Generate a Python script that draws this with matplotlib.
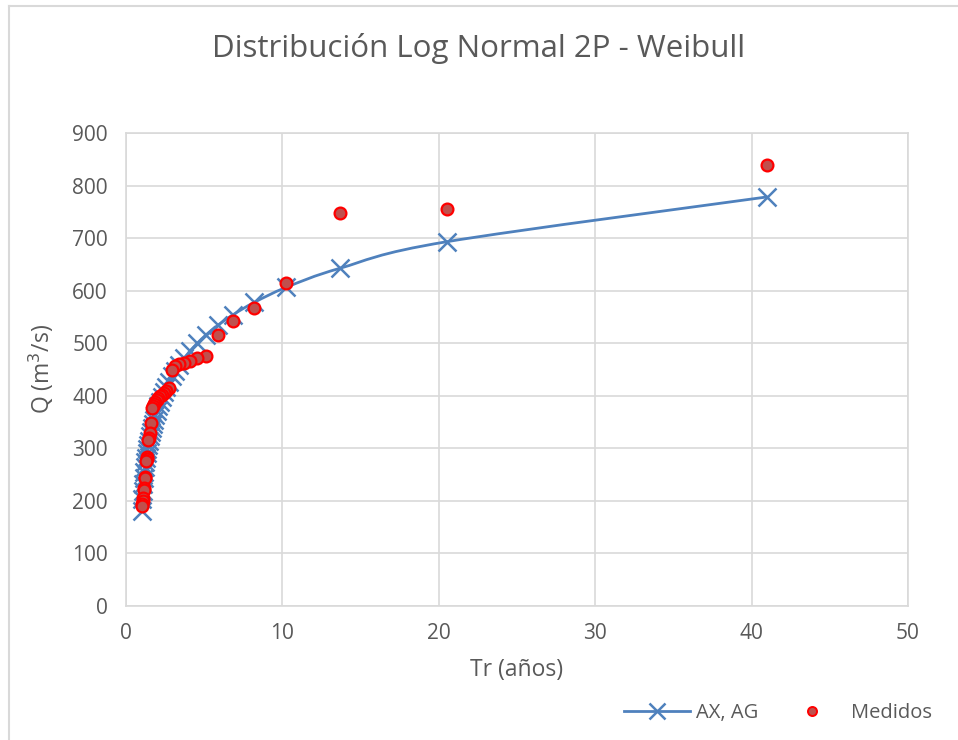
import matplotlib
matplotlib.use("Agg")
import matplotlib.pyplot as plt
from matplotlib.path import Path
from matplotlib.patches import PathPatch
from matplotlib.lines import Line2D
import numpy as np

plt.rcParams['font.family'] = ['Open Sans', 'DejaVu Sans']

# Return periods (Weibull plotting position, n = 40)
tr = [41.0, 20.5, 13.667, 10.25, 8.2, 6.833, 5.857, 5.125, 4.556, 4.1,
      3.727, 3.417, 3.154, 2.929, 2.733, 2.5625, 2.412, 2.278, 2.158, 2.05,
      1.952, 1.864, 1.783, 1.708, 1.64, 1.577, 1.519, 1.464, 1.414, 1.367,
      1.323, 1.281, 1.242, 1.206, 1.171, 1.139, 1.108, 1.079, 1.051, 1.025]

# Fitted discharges, Log Normal 2P
q_fit = [778.4, 693.1, 642.5, 606.4, 577.7, 554.0, 533.9, 516.1, 499.9, 485.3,
         471.8, 459.5, 447.7, 436.7, 426.2, 416.2, 406.6, 397.3, 388.4, 379.7,
         371.1, 362.9, 354.8, 346.6, 338.6, 330.7, 322.7, 314.8, 306.7, 298.7,
         290.4, 281.9, 273.1, 264.0, 254.4, 243.9, 232.4, 219.3, 203.4, 181.1]

# Measured annual maximum discharges (sorted)
q_obs = [839, 755, 748, 615, 567, 542, 516, 476, 471, 467,
         463, 460, 457, 450, 415, 410, 406, 402, 399, 396,
         392, 389, 385, 381, 377, 348, 330, 320, 315, 283,
         280, 276, 246, 243, 224, 221, 205, 200, 195, 190]

x_ticks = [0, 10, 20, 30, 40, 50]
y_ticks = [0, 100, 200, 300, 400, 500, 600, 700, 800, 900]

txt = '#595959'
grid = '#D9D9D9'
blue = '#4F81BD'

fig = plt.figure(figsize=(9.58, 7.40), dpi=100)
ax = fig.add_axes([126/958, 1 - 606/740, (908 - 126)/958, (606 - 133)/740])

# smooth curve through the fitted points (Catmull-Rom as cubic Bezier)
def smooth_path(xs, ys):
    pts = np.column_stack([xs, ys])[::-1]
    verts = [pts[0]]
    codes = [Path.MOVETO]
    n = len(pts)
    for i in range(n - 1):
        p0 = pts[max(i - 1, 0)]
        p1 = pts[i]
        p2 = pts[i + 1]
        p3 = pts[min(i + 2, n - 1)]
        c1 = p1 + (p2 - p0) / 6.0
        c2 = p2 - (p3 - p1) / 6.0
        verts += [c1, c2, p2]
        codes += [Path.CURVE4] * 3
    return Path(verts, codes)

ax.add_patch(PathPatch(smooth_path(tr, q_fit), facecolor='none',
                       edgecolor=blue, lw=2.0, zorder=3))
ax.plot(tr, q_fit, linestyle='none', marker='x', ms=13, mew=1.8,
        color=blue, zorder=4)
ax.plot(tr, q_obs, linestyle='none', marker='o', ms=8.5,
        markerfacecolor='#C0504D', markeredgecolor='#FF0000', mew=1.6,
        zorder=5)

ax.set_xlim(0, 50)
ax.set_ylim(0, 900)
ax.set_xticks(x_ticks)
ax.set_yticks(y_ticks)
ax.grid(True, color=grid, lw=1.2)
ax.set_axisbelow(True)
for s in ax.spines.values():
    s.set_color(grid)
    s.set_linewidth(1.2)
ax.tick_params(length=0, labelsize=15, labelcolor=txt)
ax.tick_params(axis='y', pad=13)
ax.tick_params(axis='x', pad=12)

ax.set_xlabel('Tr (años)', fontsize=16.5, color=txt, labelpad=10)
ax.set_ylabel('Q (m$^3$/s)', fontsize=16.5, color=txt, labelpad=12)

fig.text(0.5, 1 - 49/740, 'Distribución Log Normal 2P - Weibull',
         ha='center', va='center', fontsize=22.5, color=txt)

handles = [
    Line2D([], [], color=blue, lw=2.0, marker='x', ms=11, mew=1.8),
    Line2D([], [], linestyle='none', marker='o', ms=6.5,
           markerfacecolor='#C0504D', markeredgecolor='#FF0000', mew=1.4),
]
fig.legend(handles, ['AX, AG', 'Medidos'], loc='center',
           bbox_to_anchor=(778/958, 1 - 713/740), ncol=2, frameon=False,
           fontsize=14.5, labelcolor=txt, handlelength=3.3,
           columnspacing=1.0, handletextpad=0.3)

# outer chart frame
fig.add_artist(Line2D([9/958, 9/958], [0, 1 - 6/740], color=grid, lw=1.5,
                      transform=fig.transFigure))
fig.add_artist(Line2D([9/958, 1], [1 - 6/740, 1 - 6/740], color=grid, lw=1.5,
                      transform=fig.transFigure))

fig.savefig('out.png', dpi=100, facecolor='white')
